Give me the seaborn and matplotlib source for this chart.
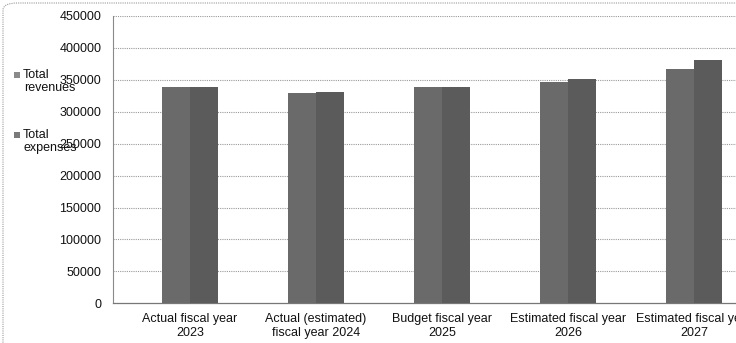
import matplotlib
matplotlib.use("Agg")
import matplotlib.pyplot as plt
from matplotlib.patches import Rectangle, FancyBboxPatch
import seaborn as sns
import pandas as pd

categories = ["Actual fiscal year\n2023", "Actual (estimated)\nfiscal year 2024",
              "Budget fiscal year\n2025", "Estimated fiscal year\n2026",
              "Estimated fiscal year\n2027"]
series = ["Total revenues", "Total expenses"]
revenues = [339500, 329700, 338400, 346300, 367200]
expenses = [339500, 331700, 338400, 352000, 381700]
yticks = [0, 50000, 100000, 150000, 200000, 250000, 300000, 350000, 400000, 450000]

colors = ["#6a6a6a", "#5b5b5b"]

df = pd.DataFrame({
    "category": categories * 2,
    "series": [series[0]] * len(categories) + [series[1]] * len(categories),
    "value": revenues + expenses,
})

sns.set_style("white")
plt.rcParams["font.family"] = ["Liberation Sans", "DejaVu Sans"]

FS = 9.0
W, H = 736, 343
fig = plt.figure(figsize=(W / 100, H / 100), dpi=100)
left = 113 / W
bottom = 1 - 303.3 / H
top = 1 - 16 / H
ax = fig.add_axes([left, bottom, 1.0 - left, top - bottom])

sns.barplot(data=df, x="category", y="value", hue="series", hue_order=series,
            palette=colors, width=0.445, gap=0, dodge=True, legend=False,
            edgecolor="none", linewidth=0, ax=ax, zorder=3)

ax.set_ylim(0, 450000)
ax.set_xlim((113 - 190) / 126, (736 - 190) / 126)
ax.set_yticks(yticks)
ax.set_yticklabels([str(v) for v in yticks])
ax.set_xlabel("")
ax.set_ylabel("")
for y in yticks[1:]:
    ax.axhline(y, color="#9a9a9a", lw=0.8, ls=(0, (1, 1)), zorder=1)
ax.tick_params(axis="both", length=0, labelsize=FS, colors="#111111")
ax.tick_params(axis="y", pad=8.5)
ax.tick_params(axis="x", pad=7)
for s in ["top", "right"]:
    ax.spines[s].set_visible(False)
ax.spines["left"].set_color("#8a8a8a")
ax.spines["left"].set_linestyle((0, (1, 1)))
ax.spines["left"].set_linewidth(0.8)
ax.spines["bottom"].set_color("#777777")
ax.spines["bottom"].set_linewidth(0.9)

# legend (manual, at left, overlapping the tick labels as in the original)
leg_y = [75, 135]
for name, col, yy in zip(series, ["#8a8a8a", "#7a7a7a"], leg_y):
    fig.patches.append(Rectangle((14 / W, 1 - (yy + 3) / H), 6 / W, 6 / H,
                                 transform=fig.transFigure, facecolor=col,
                                 edgecolor="none", zorder=5))
    first, rest = name.split(" ", 1)
    fig.text(23 / W, 1 - yy / H, first, ha="left", va="center",
             fontsize=FS, color="#111111", zorder=6)
    fig.text(24 / W, 1 - (yy + 13) / H, rest, ha="left", va="center",
             fontsize=FS, color="#111111", zorder=6)

# chart area border (rounded, cropped at right/bottom)
fig.patches.append(FancyBboxPatch((3 / W, -0.2), 1.2, 1.2 - 3 / H,
                                  boxstyle="round,pad=0,rounding_size=0.02",
                                  transform=fig.transFigure, fill=False,
                                  edgecolor="#9a9a9a", lw=0.8, ls=(0, (1, 1))))

fig.savefig("out.png", dpi=100)
